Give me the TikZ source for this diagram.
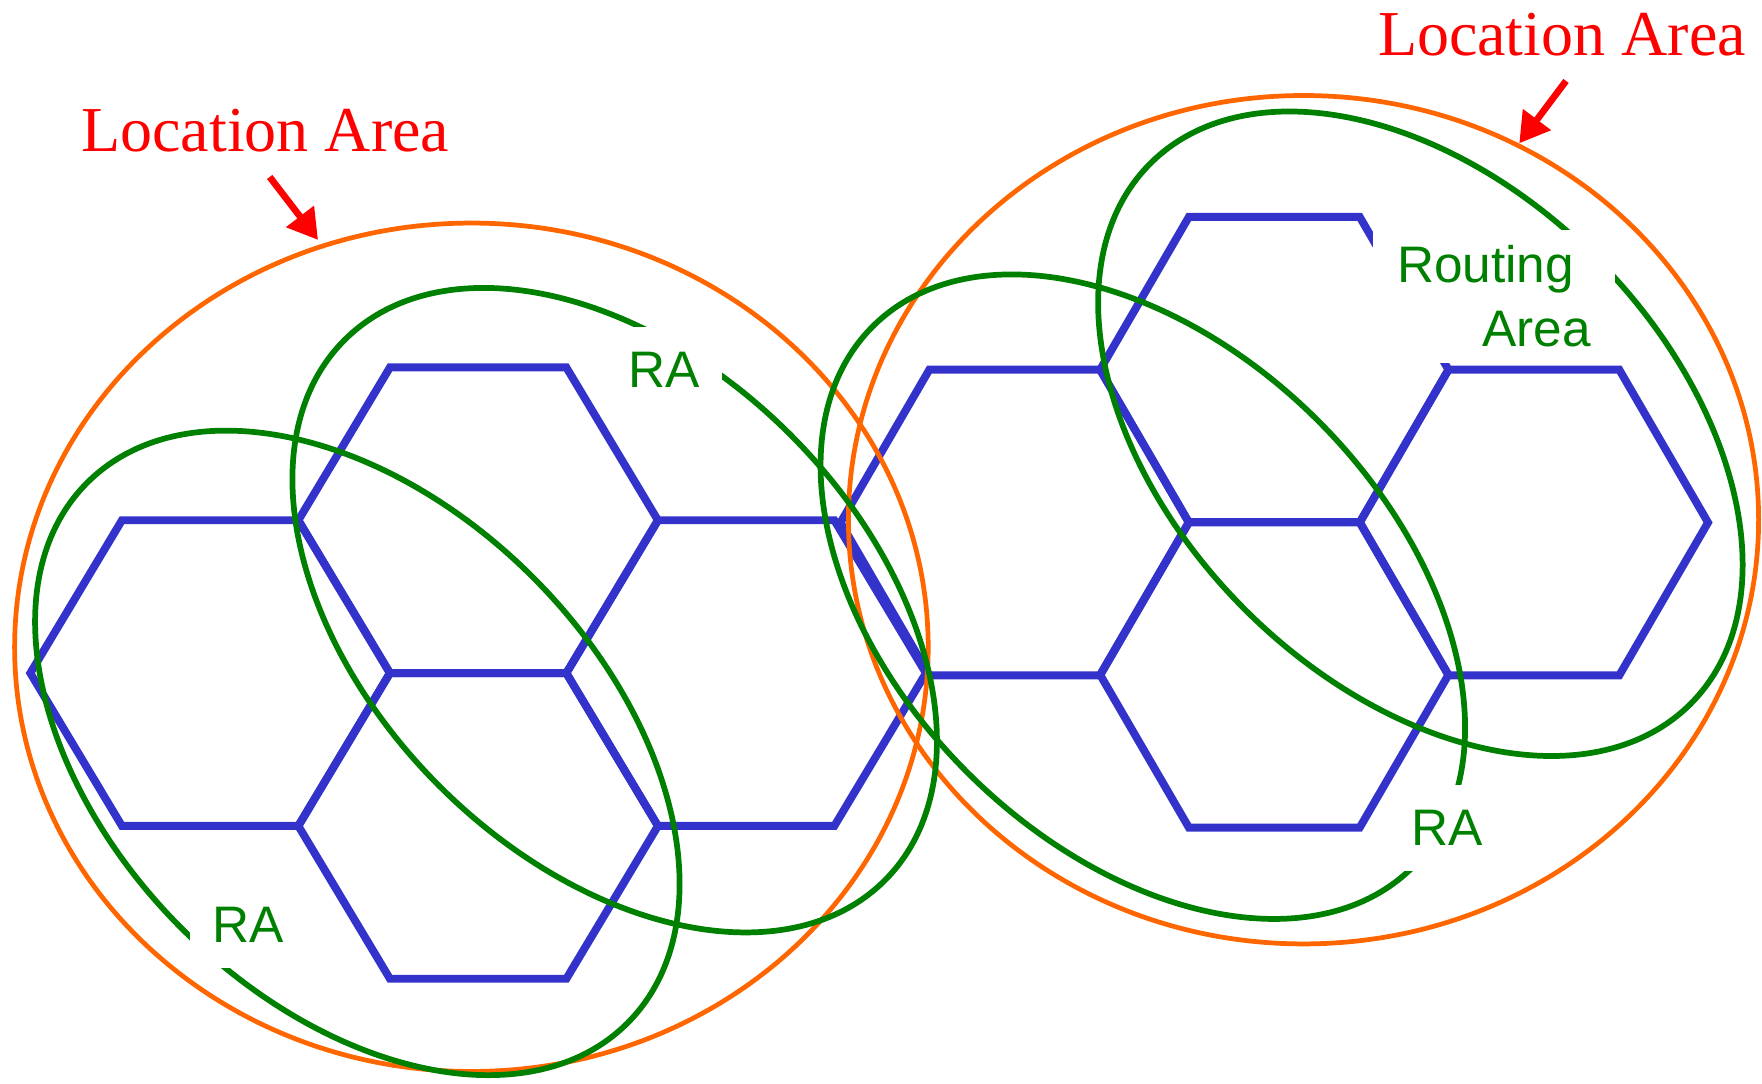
\documentclass[tikz,border=0pt]{standalone}
\usepackage{fontspec}
\setmainfont{Liberation Serif}
\setsansfont{Liberation Sans}
\usepackage{tikz}
\usetikzlibrary{arrows.meta}
\definecolor{zzzzcc}{RGB}{51,51,204}
\definecolor{ffttqq}{RGB}{255,102,0}
\definecolor{qq8qqq}{RGB}{0,128,0}
\definecolor{ffqqqq}{RGB}{255,0,0}

\begin{document}
\begin{tikzpicture}[line cap=round,line join=round,>={Triangle[length=7.5pt,width=8.5pt]},x=0.01cm,y=-0.01cm,
	cell/.style={color=zzzzcc,line width=2pt,line join=miter,line cap=butt},
	larea/.style={color=ffttqq,line width=1.2pt},
	rarea/.style={color=qq8qqq,line width=1.45pt},
	laname/.style={text=ffqqqq,font=\fontsize{16.2}{19}\selectfont,inner sep=0pt,anchor=base},
	raname/.style={text=qq8qqq,fill=white,font=\sffamily\fontsize{13}{16.2}\selectfont,inner xsep=5.5pt,inner ysep=6.5pt,anchor=base}]
					\useasboundingbox (0,0) rectangle (1568,964);
					
					% cells, left location area
					\foreach \cx/\cy in {187/599,425.5/463,425.5/735,664/599}
					\draw[cell,shift={(\cx,\cy)}] (-160,0) -- (-78.5,-136) -- (78.5,-136) -- (160,0) -- (78.5,136) -- (-78.5,136) -- cycle;
					
					% cells, right location area
					\foreach \cx/\cy in {903/465,1134/329,1365/465,1134/600.5}
					\draw[cell,shift={(\cx,\cy)}] (-155,0) -- (-76,-136) -- (76,-136) -- (155,0) -- (76,136) -- (-76,136) -- cycle;
					
					\draw[larea] (419.5,576) ellipse [x radius=406.5, y radius=377.5];
					\draw[larea] (1160,462.5) ellipse [x radius=405, y radius=377.5];
					
					\foreach \cx/\cy in {547/543,318/670,1017/531,1264/386}
					\draw[rarea,rotate around={-45:(\cx,\cy)}] (\cx,\cy) ellipse [x radius=340, y radius=221];
					
					\node[raname] (raone) at (591,345) {RA};
					\node[raname] (ratwo) at (220.6,839) {RA};
					\node[raname] (rathree) at (1288,752.6) {RA};
					\node[raname,align=left,anchor=center,inner xsep=6pt,inner ysep=4pt] (routing) at (1329.5,263.7) {Routing\\\hspace*{0.76cm}Area};
					
					\node[laname] (laleft) at (236,135) {Location Area};
					\node[laname] (laright) at (1390,49) {Location Area};
					
					\coordinate (tailleft) at (240,157.5);
					\coordinate (tipleft) at (283,213.5);
					\coordinate (tailright) at (1393.6,72);
					\coordinate (tipright) at (1352,127.5);
					
					\draw[->,color=ffqqqq,line width=1.7pt,line cap=butt] (tailleft) -- (tipleft);
					\draw[->,color=ffqqqq,line width=1.7pt,line cap=butt] (tailright) -- (tipright);
				\end{tikzpicture}
\end{document}
